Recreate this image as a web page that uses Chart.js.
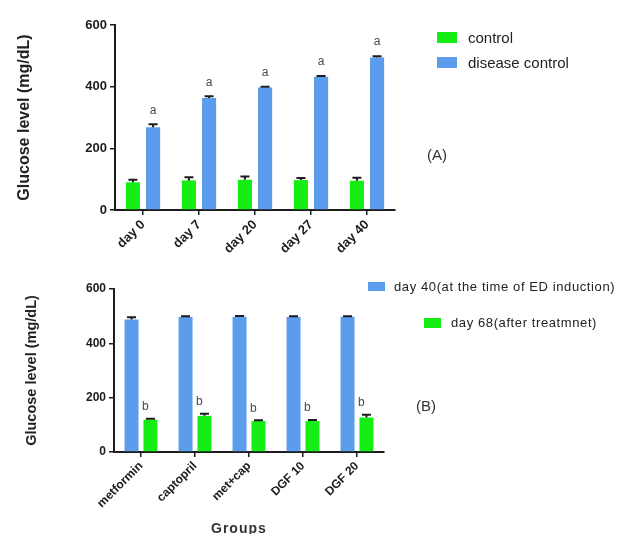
<!DOCTYPE html>
<html>
<head>
<meta charset="utf-8">
<script src="https://cdn.jsdelivr.net/npm/chart.js@4.4.1/dist/chart.umd.min.js"></script>
<style>
  html, body { margin: 0; padding: 0; background: #fff; }
  body { width: 618px; height: 534px; position: relative; overflow: hidden;
         font-family: 'Liberation Sans', Arial, Helvetica, sans-serif; color: #222; }
  .panel { position: absolute; left: 0; width: 618px; }
  .lg-item { position: absolute; white-space: nowrap; }
  .lg-box { position: absolute; }
  .lg-text { position: absolute; white-space: nowrap; line-height: 1; }
  .tag { position: absolute; white-space: nowrap; font-size: 15px; color: #333; line-height: 1; }
  #groups { position: absolute; font-weight: bold; font-size: 14px; letter-spacing: 1px; color: #333; line-height: 1; }
</style>
</head>
<body>
<div class="panel" style="top:0;height:268px"><canvas id="chartA" width="618" height="268"></canvas></div>
<div class="panel" style="top:268px;height:266px"><canvas id="chartB" width="618" height="266"></canvas></div>
<div id="legendA"></div>
<div id="legendB"></div>
<div class="tag" style="left:427px;top:147px">(A)</div>
<div class="tag" style="left:416px;top:398px">(B)</div>
<div id="groups" style="left:211px;top:521px">Groups</div>

<script>
// ---- Panel A: glucose over time ----
const dayLabels = ['day 0', 'day 7', 'day 20', 'day 27', 'day 40'];
const controlMeans = [90, 96, 98, 97, 95];
const controlSem = [8, 10, 11, 7, 10];
const diseaseMeans = [268, 363, 397, 432, 495];
const diseaseSem = [10, 6, 3, 3, 4];
const diseaseMarks = ['a', 'a', 'a', 'a', 'a'];

// ---- Panel B: treatment groups ----
const groupLabels = ['metformin', 'captopril', 'met+cap', 'DGF 10', 'DGF 20'];
const day40Means = [488, 497, 498, 497, 498];
const day40Sem = [8, 3, 3, 3, 2];
const day68Means = [119, 133, 114, 114, 127];
const day68Sem = [3, 8, 3, 4, 10];
const day68Marks = ['b', 'b', 'b', 'b', 'b'];

const yTickValues = [0, 200, 400, 600];
const yAxisTitle = 'Glucose level (mg/dL)';

const GREEN = '#14ee14';
const BLUE = '#5b9cec';
const INK = '#1c1c1c';
const FONT = "'Liberation Sans', Arial, Helvetica, sans-serif";

// Error bars (upper whisker + cap) and significance letters above them
const errorBarPlugin = {
  id: 'errorBars',
  afterDatasetsDraw(chart, args, opts) {
    const ctx = chart.ctx;
    const yScale = chart.scales.y;
    chart.data.datasets.forEach((ds, di) => {
      if (!ds.errors) return;
      const meta = chart.getDatasetMeta(di);
      meta.data.forEach((bar, i) => {
        const top = yScale.getPixelForValue(ds.data[i] + ds.errors[i]);
        ctx.save();
        ctx.strokeStyle = INK;
        ctx.lineWidth = 2;
        ctx.beginPath();
        ctx.moveTo(bar.x, bar.y);
        ctx.lineTo(bar.x, top);
        ctx.moveTo(bar.x - opts.cap / 2, top);
        ctx.lineTo(bar.x + opts.cap / 2, top);
        ctx.stroke();
        if (ds.marks) {
          ctx.fillStyle = '#4a4a4a';
          ctx.font = '12px ' + FONT;
          ctx.textAlign = 'center';
          ctx.textBaseline = 'bottom';
          ctx.fillText(ds.marks[i], bar.x + opts.markDx, top - opts.markGap);
        }
        ctx.restore();
      });
    });
  }
};

function makeOptions(cfg) {
  return {
    responsive: false,
    animation: false,
    layout: { padding: cfg.padding },
    plugins: {
      legend: { display: false },
      tooltip: { enabled: false },
      errorBars: cfg.errorBars
    },
    scales: {
      x: {
        afterFit(scale) { scale.height = cfg.xHeight; },
        grid: { offset: false, drawOnChartArea: false, drawTicks: true, tickLength: 5, color: INK, lineWidth: 1.5 },
        border: { display: true, color: INK, width: 2 },
        ticks: {
          autoSkip: false, minRotation: 45, maxRotation: 45, padding: 2,
          color: INK, font: { family: FONT, size: cfg.xTickSize, weight: 'bold' }
        }
      },
      y: {
        min: 0, max: 600,
        afterFit(scale) { scale.width = cfg.yWidth; },
        afterBuildTicks(scale) { scale.ticks = yTickValues.map(v => ({ value: v })); },
        grid: { drawOnChartArea: false, drawTicks: true, tickLength: 5, color: INK, lineWidth: 1.5 },
        border: { display: true, color: INK, width: 2 },
        ticks: { padding: 3, color: INK, font: { family: FONT, size: cfg.yTickSize, weight: 'bold' } },
        title: {
          display: true, text: yAxisTitle, color: '#222',
          font: { family: FONT, size: cfg.titleSize, weight: 'bold' },
          padding: { top: cfg.titlePad, bottom: 0 }
        }
      }
    }
  };
}

const chartA = new Chart(document.getElementById('chartA'), {
  type: 'bar',
  data: {
    labels: dayLabels,
    datasets: [
      { label: 'control', data: controlMeans, errors: controlSem, backgroundColor: GREEN,
        categoryPercentage: 0.72, barPercentage: 0.7 },
      { label: 'disease control', data: diseaseMeans, errors: diseaseSem, marks: diseaseMarks,
        backgroundColor: BLUE, categoryPercentage: 0.72, barPercentage: 0.7 }
    ]
  },
  options: makeOptions({
    padding: { top: 25, right: 223, left: 0, bottom: 0 },
    xHeight: 58, yWidth: 115, xTickSize: 13, yTickSize: 13,
    titleSize: 16, titlePad: 15,
    errorBars: { cap: 9, markGap: 8, markDx: 0 }
  }),
  plugins: [errorBarPlugin]
});

const chartB = new Chart(document.getElementById('chartB'), {
  type: 'bar',
  data: {
    labels: groupLabels,
    datasets: [
      { label: 'day 40(at the time of ED induction)', data: day40Means, errors: day40Sem,
        backgroundColor: BLUE, categoryPercentage: 0.7, barPercentage: 0.74 },
      { label: 'day 68(after treatmnet)', data: day68Means, errors: day68Sem, marks: day68Marks,
        backgroundColor: GREEN, categoryPercentage: 0.7, barPercentage: 0.74 }
    ]
  },
  options: makeOptions({
    padding: { top: 21, right: 234, left: 0, bottom: 0 },
    xHeight: 82, yWidth: 114, xTickSize: 12, yTickSize: 12,
    titleSize: 14.5, titlePad: 23,
    errorBars: { cap: 9, markGap: 6, markDx: -5 }
  }),
  plugins: [errorBarPlugin]
});

// HTML legends built from the dataset labels and colours
function buildLegend(hostId, chart, items) {
  const host = document.getElementById(hostId);
  chart.data.datasets.forEach((ds, i) => {
    const it = items[i];
    const box = document.createElement('div');
    box.className = 'lg-box';
    box.style.cssText = `left:${it.bx}px;top:${it.by}px;width:${it.bw}px;height:${it.bh}px;background:${ds.backgroundColor}`;
    const txt = document.createElement('div');
    txt.className = 'lg-text';
    txt.textContent = ds.label;
    txt.style.cssText = `left:${it.tx}px;top:${it.ty}px;font-size:${it.fs}px;letter-spacing:${it.ls}px`;
    host.appendChild(box);
    host.appendChild(txt);
  });
}

buildLegend('legendA', chartA, [
  { bx: 437, by: 32, bw: 20, bh: 11, tx: 468, ty: 30, fs: 15, ls: 0 },
  { bx: 437, by: 57, bw: 20, bh: 11, tx: 468, ty: 55, fs: 15, ls: 0 }
]);
buildLegend('legendB', chartB, [
  { bx: 368, by: 282, bw: 17, bh: 9, tx: 394, ty: 280, fs: 13, ls: 0.6 },
  { bx: 424, by: 318, bw: 17, bh: 10, tx: 451, ty: 316, fs: 13, ls: 0.6 }
]);
</script>
</body>
</html>
